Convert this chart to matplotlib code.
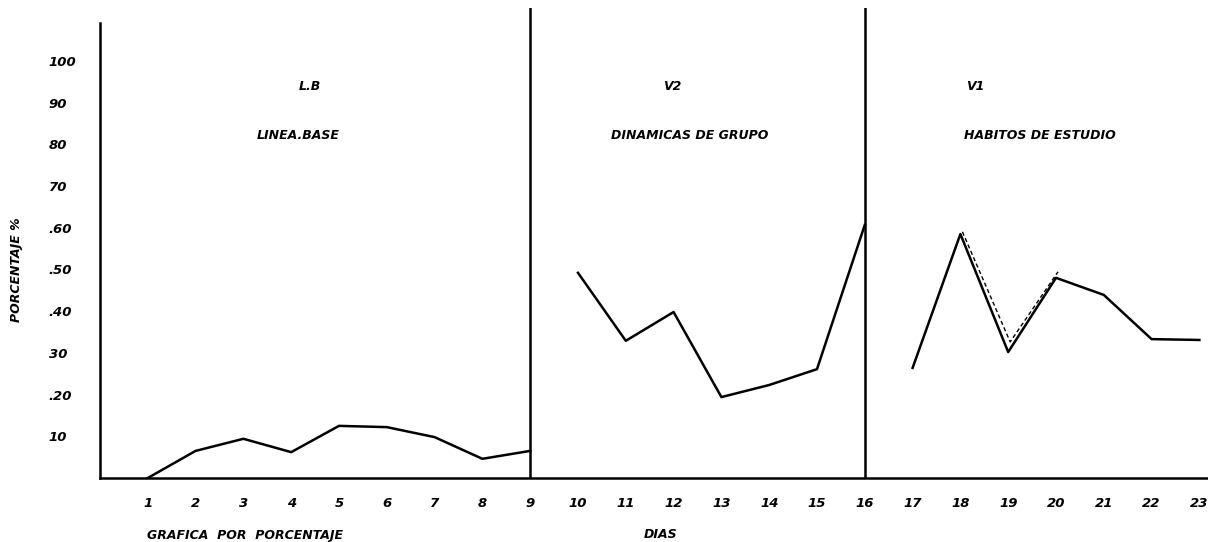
import matplotlib
matplotlib.use('Agg')
import matplotlib.pyplot as plt
import matplotlib.transforms as mtransforms

# Datos (porcentaje por dia)
lb_days = [1, 2, 3, 4, 5, 6, 7, 8, 9]
lb_vals = [0, 6.5, 9.4, 6.2, 12.5, 12.2, 9.8, 4.6, 6.5]

v2_days = [10, 11, 12, 13, 14, 15, 16]
v2_vals = [49.2, 32.9, 39.8, 19.4, 22.3, 26.1, 60.7]

v1_days = [17, 18, 19, 20, 21, 22, 23]
v1_vals = [26.4, 58.5, 30.2, 48.0, 43.9, 33.3, 33.1]

# segunda linea (punteada) en V1
v1b_days = [18, 19, 20]
v1b_vals = [58.8, 32.4, 49.2]

dividers = [9, 16]
day_ticks = list(range(1, 24))
ytick_vals = [10, 20, 30, 40, 50, 60, 70, 80, 90, 100]
ytick_labels = ['10', '.20', '30', '.40', '.50', '.60', '70', '80', '90', '100']

font = dict(family='DejaVu Sans', weight='bold', style='italic')

W, H = 1208, 542
fig = plt.figure(figsize=(W / 100, H / 100), dpi=100)
ax = fig.add_axes([100 / W, (H - 478) / H, 1108 / W, 470 / H])
ax.set_xlim(0, 23.18)
ax.set_ylim(0, 112.7)

for s in ['top', 'right', 'left']:
    ax.spines[s].set_visible(False)
ax.spines['bottom'].set_linewidth(1.8)

# eje vertical y separadores de fases
ax.plot([0, 0], [0, 109], color='black', lw=1.8, clip_on=False)
for d in dividers:
    ax.axvline(d, color='black', lw=1.8)

ax.plot(lb_days, lb_vals, color='black', lw=1.8)
ax.plot(v2_days, v2_vals, color='black', lw=1.8)
ax.plot(v1_days, v1_vals, color='black', lw=1.8)
shift = mtransforms.offset_copy(ax.transData, fig=fig, x=2, y=1, units='dots')
ax.plot(v1b_days, v1b_vals, color='black', lw=1.0, ls=(0, (3, 2)), transform=shift)

ax.set_xticks(day_ticks, [str(d) for d in day_ticks])
ax.set_yticks(ytick_vals, ytick_labels)
ax.tick_params(axis='x', length=0, pad=14)
ax.tick_params(axis='y', length=0, pad=37)
for lab in ax.get_xticklabels() + ax.get_yticklabels():
    lab.set_fontfamily('DejaVu Sans')
    lab.set_fontweight('bold')
    lab.set_fontstyle('italic')
    lab.set_fontsize(9.5)
for lab in ax.get_yticklabels():
    lab.set_horizontalalignment('left')

# textos
def ftext(x, y, s, **kw):
    fig.text(x / W, 1 - y / H, s, ha='center', va='center', fontsize=9, **font, **kw)

ftext(310, 87, 'L.B')
ftext(298, 135, 'LINEA.BASE')
ftext(672, 87, 'V2')
ftext(690, 135, 'DINAMICAS DE GRUPO')
ftext(975, 87, 'V1')
ftext(1040, 135, 'HABITOS DE ESTUDIO')
ftext(245, 535, 'GRAFICA  POR  PORCENTAJE')
ftext(661, 535, 'DIAS')
ftext(17, 270, 'PORCENTAJE %', rotation=90)

fig.savefig('out.png', dpi=100)
